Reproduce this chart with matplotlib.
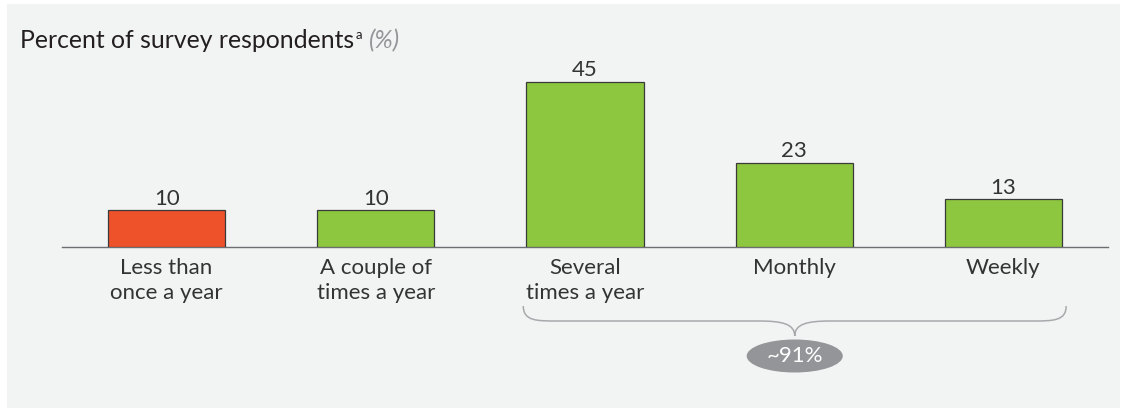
import matplotlib
matplotlib.use("Agg")
import matplotlib.pyplot as plt
from matplotlib.patches import Rectangle, Ellipse, PathPatch
from matplotlib.path import Path

categories = ["Less than\nonce a year", "A couple of\ntimes a year",
              "Several\ntimes a year", "Monthly", "Weekly"]
values = [10, 10, 45, 23, 13]
bar_colors = ["#ee522b", "#8dc63f", "#8dc63f", "#8dc63f", "#8dc63f"]
value_labels = ["10", "10", "45", "23", "13"]
bracket_start, bracket_end = 2, 4
bracket_label = "~91%"

FONT = ["Lato", "DejaVu Sans"]
plt.rcParams['font.family'] = FONT

W, H = 1126, 417
fig = plt.figure(figsize=(W / 100, H / 100), dpi=100, facecolor="white")
bg = "#f2f4f3"
fig.patches.append(Rectangle((7 / W, 1 - 408 / H), (1120 - 7) / W, (408 - 4) / H,
                             transform=fig.transFigure, facecolor=bg,
                             edgecolor="none", zorder=-5))

ax_left, ax_right = 62, 1108
ax_bottom, ax_top = 247, 60
ax = fig.add_axes([ax_left / W, 1 - ax_bottom / H, (ax_right - ax_left) / W,
                   (ax_bottom - ax_top) / H])
ax.set_facecolor("none")
ppu = 3.66
ax.set_xlim(-0.5, 4.5)
ax.set_ylim(0, (ax_bottom - ax_top) / ppu)
for s in ["top", "right", "left"]:
    ax.spines[s].set_visible(False)
ax.spines["bottom"].set_color("#6d6e71")
ax.spines["bottom"].set_linewidth(1.0)
ax.set_yticks([])
x = list(range(len(categories)))
bw = 0.56
ax.bar(x, values, width=bw, color=bar_colors, edgecolor="#3a3a3a", linewidth=0.9, zorder=3)
for xi, v, lab in zip(x, values, value_labels):
    ax.text(xi, v + 0.5, lab, ha="center", va="bottom", fontsize=16,
            color="#333333")
ax.set_xticks(x)
ax.set_xticklabels(categories, fontsize=16, color="#333333", linespacing=1.28)
ax.tick_params(axis="x", length=0, pad=8)

# bracket
def ypx(p):
    return (ax_bottom - p) / ppu

xL = bracket_start - bw / 2 - 0.015
xR = bracket_end + bw / 2 + 0.02
xm = (xL + xR) / 2
y0, y1, y2 = ypx(306), ypx(321), ypx(336)
d = 0.16
dm = 0.17
verts = [(xL, y0), (xL, y1), (xL + d * 0.4, y1), (xL + d, y1),
         (xm - dm, y1),
         (xm - dm * 0.35, y1), (xm, y1 - (y1 - y2) * 0.2), (xm, y2),
         (xm, y1 - (y1 - y2) * 0.2), (xm + dm * 0.35, y1), (xm + dm, y1),
         (xR - d, y1),
         (xR - d * 0.4, y1), (xR, y1), (xR, y0)]
codes = [Path.MOVETO, Path.CURVE4, Path.CURVE4, Path.CURVE4,
         Path.LINETO,
         Path.CURVE4, Path.CURVE4, Path.CURVE4,
         Path.CURVE4, Path.CURVE4, Path.CURVE4,
         Path.LINETO,
         Path.CURVE4, Path.CURVE4, Path.CURVE4]
ax.add_patch(PathPatch(Path(verts, codes), facecolor="none", edgecolor="#a7a9ac",
                       linewidth=1.1, clip_on=False))
ax.add_patch(Ellipse((xm, ypx(356)), 96 / 209, 33 / ppu, facecolor="#939598",
                     edgecolor="none", clip_on=False))
ax.text(xm, ypx(356), bracket_label, ha="center", va="center", fontsize=16,
        color="white")

# title
t = fig.text(20 / W, 1 - 41 / H, "Percent of survey respondents", fontsize=17.8,
             color="#231f20", va="center", ha="left")
fig.canvas.draw()
bb = t.get_window_extent()
fig.text(bb.x1 / W + 0.001, 1 - 35 / H, "a", fontsize=9.5, color="#231f20", va="center")
fig.text(bb.x1 / W + 0.013, 1 - 41 / H, "(%)", fontsize=17.8, color="#939598",
         style="italic", va="center")

fig.savefig("out.png", dpi=100, facecolor="white")
